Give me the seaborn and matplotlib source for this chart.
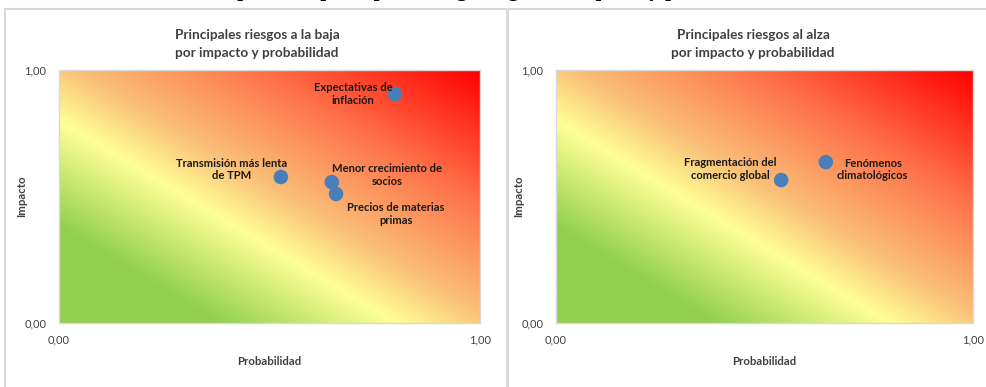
import numpy as np
import pandas as pd
import seaborn as sns
import matplotlib.pyplot as plt
from matplotlib.colors import LinearSegmentedColormap
from matplotlib.patches import Rectangle

# datos
baja_riesgos = ["Expectativas de\ninflación", "Transmisión más lenta\nde TPM",
                "Menor crecimiento de\nsocios", "Precios de materias\nprimas"]
baja_prob = [0.798, 0.527, 0.648, 0.658]
baja_impacto = [0.905, 0.577, 0.557, 0.510]

alza_riesgos = ["Fragmentación del\ncomercio global", "Fenómenos\nclimatológicos"]
alza_prob = [0.540, 0.647]
alza_impacto = [0.565, 0.636]

titulos = ["Principales riesgos a la baja\npor impacto y probabilidad",
           "Principales riesgos al alza\npor impacto y probabilidad"]
tick_labels = ["0,00", "1,00"]

sns.set_style("white")
plt.rcParams['font.family'] = ['Lato', 'DejaVu Sans']

W, H = 987, 387
fig = plt.figure(figsize=(W / 100, H / 100), dpi=100)

# marcos de cada panel
for x0, x1 in [(5, 507), (508, 1000)]:
    fig.patches.append(Rectangle((x0 / W, -0.1), (x1 - x0) / W, (H - 9) / H + 0.1,
                                 transform=fig.transFigure, fill=False,
                                 edgecolor="#D9D9D9", lw=1.5))

# titulo cortado en la parte superior (solo se ven los descendentes)
fig.text(0.5, 1 + 4.3 / H, "Mapa de los principales riesgos según su impacto y probabilidad",
         ha="center", va="baseline", fontsize=15, fontweight="bold",
         family="Liberation Serif", color="black")

cmap = LinearSegmentedColormap.from_list("riesgo", [
    (0.0, (146/255, 208/255, 80/255)),
    (0.19, (146/255, 208/255, 80/255)),
    (0.40, (255/255, 255/255, 150/255)),
    (0.52, (250/255, 192/255, 120/255)),
    (0.74, (255/255, 112/255, 72/255)),
    (1.0, (255/255, 0/255, 0/255)),
])
gu, gv = np.meshgrid(np.linspace(0, 1, 400), np.linspace(0, 1, 400))
grad = (gu + gv) / 2

paneles = [
    dict(rect=(59, 421), titulo_x=257, ylab_x=27, nombres=baja_riesgos,
         x=baja_prob, y=baja_impacto,
         offsets=[(-42, 0), (-49, -7.5), (55, -7), (60, 20)]),
    dict(rect=(556, 417), titulo_x=753, ylab_x=524, nombres=alza_riesgos,
         x=alza_prob, y=alza_impacto,
         offsets=[(-51, -11), (47, 7.5)]),
]

for i, p in enumerate(paneles):
    left, width = p["rect"]
    ax = fig.add_axes([left / W, (H - 323) / H, width / W, 253 / H])
    ax.imshow(grad, cmap=cmap, origin="lower", extent=[0, 1, 0, 1],
              aspect="auto", interpolation="bilinear", zorder=0)
    df = pd.DataFrame({"prob": p["x"], "impacto": p["y"], "riesgo": p["nombres"]})
    sns.scatterplot(data=df, x="prob", y="impacto", ax=ax, s=110,
                    color="#4A7EBB", edgecolor="none", zorder=3)
    for (_, row), (dx, dy) in zip(df.iterrows(), p["offsets"]):
        ax.annotate(row["riesgo"], (row["prob"], row["impacto"]),
                    xytext=(dx * 0.72, -dy * 0.72), textcoords="offset points",
                    ha="center", va="center", fontsize=8.1, fontweight="bold",
                    color="#1A1A1A", linespacing=1.2, zorder=4)
    ax.set_xlim(0, 1)
    ax.set_ylim(0, 1)
    ax.set_xticks([0, 1])
    ax.set_yticks([0, 1])
    ax.set_xticklabels(tick_labels)
    ax.set_yticklabels(tick_labels)
    ax.tick_params(length=0, labelsize=8, labelcolor="#404040")
    ax.tick_params(axis="x", pad=8)
    ax.tick_params(axis="y", pad=9)
    ax.set_xlabel("Probabilidad", fontsize=8.2, fontweight="bold", color="#404040")
    ax.set_ylabel("Impacto", fontsize=8.2, fontweight="bold", color="#404040")
    ax.xaxis.set_label_coords(0.5, -33 / 253)
    ax.yaxis.set_label_coords(-(left - p["ylab_x"]) / width, 0.5)
    for s in ax.spines.values():
        s.set_color("#D9D9D9")
        s.set_linewidth(1.0)
    fig.text(p["titulo_x"] / W, 1 - 44 / H, titulos[i], ha="center", va="center",
             fontsize=9.8, fontweight="bold", color="#404040", linespacing=1.6)

fig.savefig("out.png", dpi=100)
